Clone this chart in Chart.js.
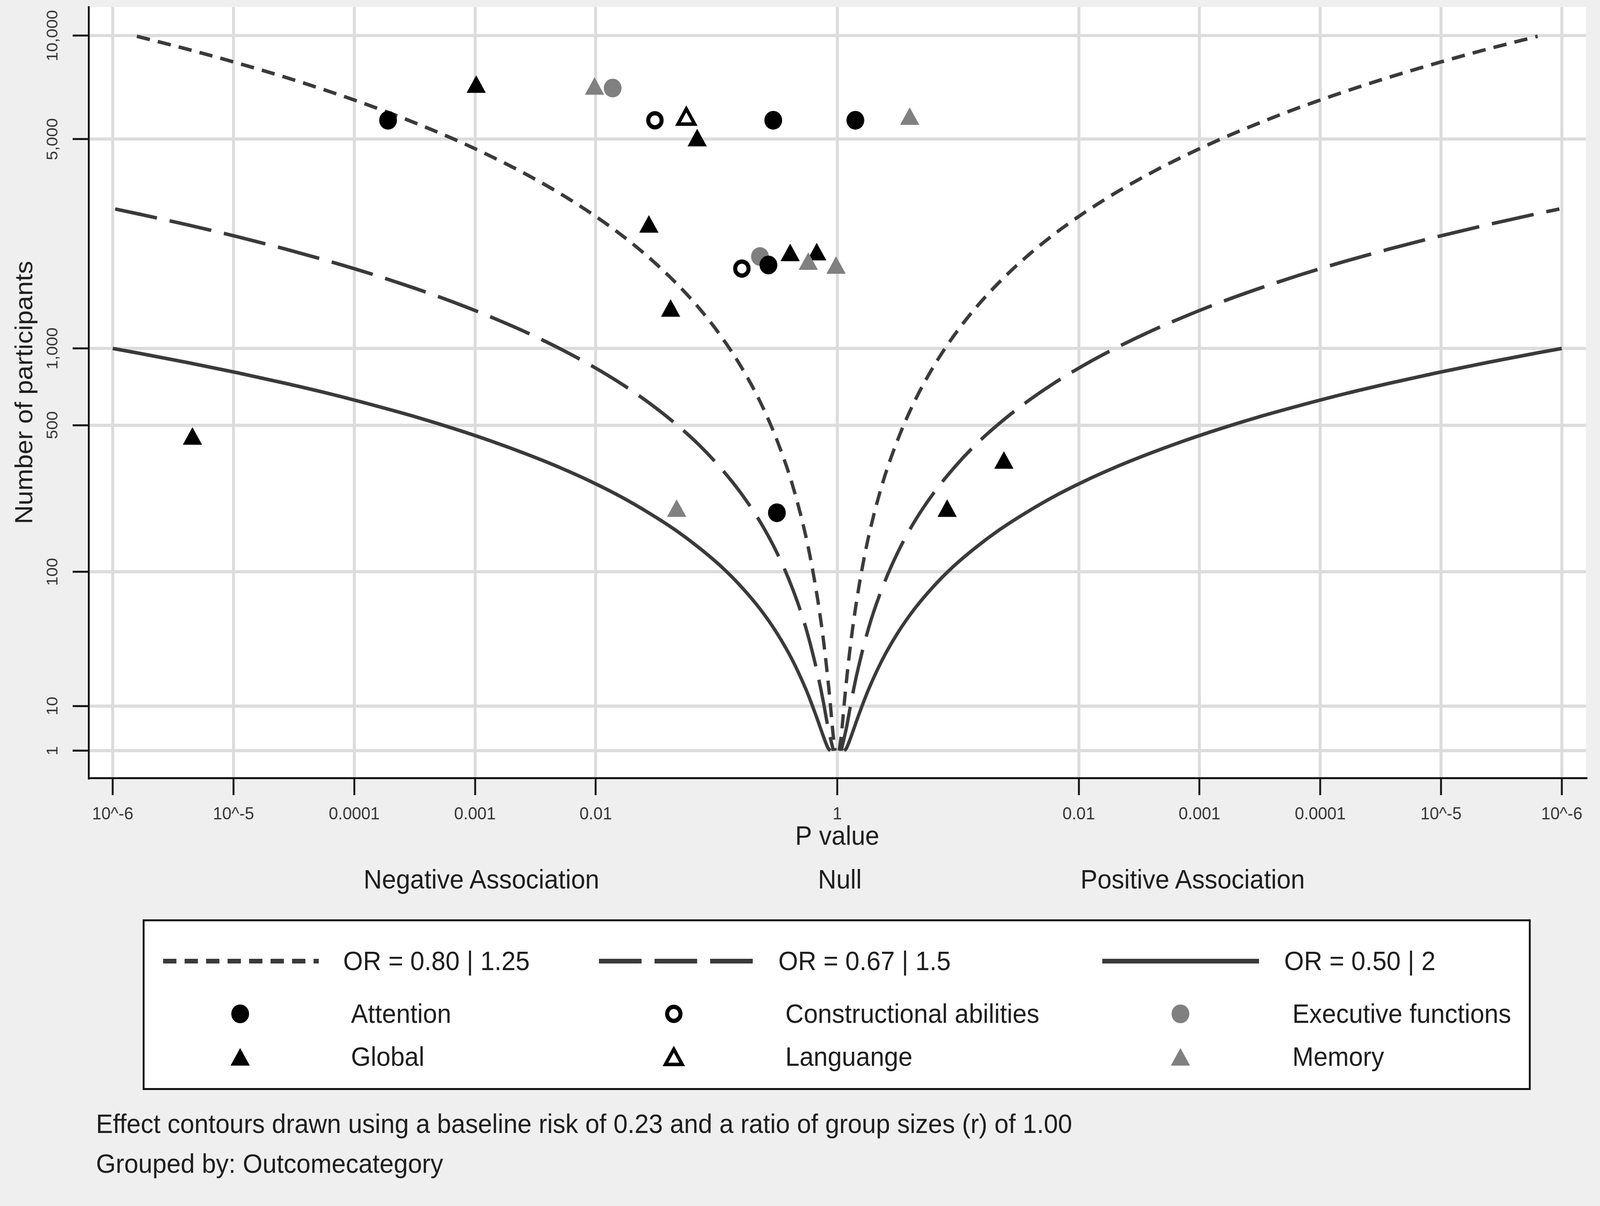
<!DOCTYPE html>
<html>
<head>
<meta charset="utf-8">
<script src="https://cdn.jsdelivr.net/npm/chart.js@4.4.1/dist/chart.umd.min.js"></script>
<style>
  html, body { margin: 0; padding: 0; background: #efefef; overflow: hidden; }
  #page {
    width: 4317px; height: 3088px; position: absolute; left: 0; top: 0;
    transform-origin: 0 0;
    font-family: "Liberation Sans", Arial, sans-serif; color: #1e1e1e;
  }
  #wrap { position: absolute; left: 0; top: 0; width: 4317px; height: 2200px; }
  .txt { position: absolute; font-size: 68.5px; line-height: 1; white-space: nowrap; }
  .mid { transform: translate(-50%, -50%); }
  .lft { transform: translate(0, -50%); }
  #legendBox {
    position: absolute; left: 385px; top: 2354px; width: 3745px; height: 437px;
    box-sizing: border-box; border: 5px solid #111; background: #fff;
  }
  svg.key { position: absolute; overflow: visible; }
</style>
</head>
<body>
<div id="page">
  <div id="wrap"><canvas id="albatross" width="4317" height="2200"></canvas></div>

  <div class="txt mid" style="left:1299px; top:2252px;">Negative Association</div>
  <div class="txt mid" style="left:2266px; top:2252px;">Null</div>
  <div class="txt mid" style="left:3218px; top:2252px;">Positive Association</div>

  <div id="legendBox"></div>
  <div id="legendItems"></div>

  <div class="txt lft" style="left:259px; top:2878px;">Effect contours drawn using a baseline risk of 0.23 and a ratio of group sizes (r) of 1.00</div>
  <div class="txt lft" style="left:259px; top:2980px;">Grouped by: Outcomecategory</div>
</div>

<script>
// x = signed -log10(p): negative side = negative association, positive side = positive association
// y = number of participants

const xTickValues = [-6, -5, -4, -3, -2, 0, 2, 3, 4, 5, 6]
const xTickLabels = ['10^-6', '10^-5', '0.0001', '0.001', '0.01', '1', '0.01', '0.001', '0.0001', '10^-5', '10^-6']
const yTickValues = [1, 10, 100, 500, 1000, 5000, 10000]
const yTickLabels = ['1', '10', '100', '500', '1,000', '5,000', '10,000']

// studies, grouped by outcome category
const attentionX = [-3.72, -0.53, 0.15, -0.57, -0.50]
const attentionN = [5700, 5700, 5700, 1980, 203]
const constructionalX = [-1.51, -0.79]
const constructionalN = [5700, 1925]
const executiveX = [-1.86, -0.64]
const executiveN = [7090, 2115]
const globalX = [-2.99, -1.16, -1.56, -1.38, -0.39, -0.17, -5.34, 1.38, 0.91]
const globalN = [7140, 4955, 2654, 1371, 2134, 2148, 438, 345, 207]
const languangeX = [-1.25]
const languangeN = [5750]
const memoryX = [-2.01, 0.60, -0.24, -0.01, -1.33]
const memoryN = [7050, 5750, 1995, 1935, 207]

// effect contours (distance from p = 1, in decades)
const or080U = [0.017, 0.036, 0.055, 0.075, 0.117, 0.162, 0.210, 0.261, 0.373, 0.499, 0.638, 0.792, 0.960, 1.143, 1.342, 1.556, 1.785, 2.031, 2.292, 2.569, 2.863, 3.171, 3.498, 3.839, 4.199, 4.574, 4.967, 5.374, 5.80]
const or080N = [1, 4.3, 9.7, 17.3, 38.9, 69, 108, 156, 277, 432, 622, 847, 1106, 1400, 1729, 2092, 2490, 2922, 3389, 3890, 4426, 4996, 5601, 6241, 6915, 7624, 8367, 9145, 9960]
const or067U = [0.032, 0.075, 0.117, 0.162, 0.261, 0.373, 0.499, 0.638, 0.792, 0.960, 1.143, 1.342, 1.556, 1.785, 2.031, 2.292, 2.569, 2.863, 3.171, 3.498, 3.839, 4.199, 4.574, 4.967, 5.374, 5.799, 5.98]
const or067N = [1, 5.1, 11.4, 20.3, 45.8, 81, 127, 183, 249, 325, 412, 508, 615, 732, 859, 996, 1144, 1301, 1469, 1647, 1835, 2034, 2242, 2461, 2689, 2928, 3030]
const or050U = [0.057, 0.075, 0.117, 0.162, 0.210, 0.261, 0.373, 0.499, 0.638, 0.792, 0.960, 1.143, 1.342, 1.556, 1.785, 2.031, 2.292, 2.569, 2.863, 3.171, 3.498, 3.839, 4.199, 4.574, 4.967, 5.374, 5.799, 6.00]
const or050N = [1, 1.7, 3.8, 6.7, 10.4, 15, 26.7, 41.8, 60.2, 81.9, 107, 135, 167, 202, 241, 283, 328, 376, 428, 483, 542, 603, 669, 737, 809, 884, 963, 1000]

const FONT = '"Liberation Sans", Arial, sans-serif'
const LINE_COLOR = '#3a3a3a'
const GRAY = '#808080'
const SHORT_DASH = [36, 22]
const LONG_DASH = [115, 35]

// the layout is drawn at 4317 x 3088 and stretched onto the real viewport
const sx = window.innerWidth / 4317
const sy = window.innerHeight / 3088
document.getElementById('page').style.transform = 'scale(' + sx + ',' + sy + ')'

// the participant axis is drawn on a squared-log scale
const toY = n => Math.pow(Math.log10(n), 2)

const pts = (xs, ns, side) => xs.map((x, i) => ({x: side * x, y: toY(ns[i])}))

function contour(label, us, ns, side, dash){
  const data = pts(us, ns, side)
  if (side < 0) data.reverse()
  return {
    label: label,
    data: data,
    showLine: true,
    borderColor: LINE_COLOR,
    borderWidth: 9,
    borderDash: dash,
    borderCapStyle: 'butt',
    cubicInterpolationMode: 'monotone',
    pointRadius: 0,
    order: 10
  }
}

function group(label, xs, ns, style, radius, fill, stroke, width, order){
  return {
    label: label,
    data: pts(xs, ns, 1),
    pointStyle: style,
    pointRadius: radius,
    pointHoverRadius: radius,
    pointBackgroundColor: fill,
    pointBorderColor: stroke,
    pointBorderWidth: width,
    order: order
  }
}

const plotBackground = {
  id: 'plotBackground',
  beforeDraw(chart){
    const {ctx, chartArea: a} = chart
    ctx.save()
    ctx.fillStyle = '#ffffff'
    ctx.fillRect(a.left, a.top, a.right - a.left, a.bottom - a.top)
    ctx.restore()
  }
}

// vertical tick labels on the participant axis
const verticalYLabels = {
  id: 'verticalYLabels',
  afterDraw(chart){
    const ctx = chart.ctx
    const sc = chart.scales.y
    ctx.save()
    ctx.font = '43px ' + FONT
    ctx.fillStyle = '#333'
    ctx.textAlign = 'center'
    ctx.textBaseline = 'middle'
    yTickValues.forEach((v, i) => {
      ctx.save()
      ctx.translate(sc.right - 96, sc.getPixelForValue(toY(v)))
      ctx.rotate(-Math.PI / 2)
      ctx.fillText(yTickLabels[i], 0, 0)
      ctx.restore()
    })
    ctx.restore()
  }
}

Chart.defaults.font.family = FONT

const chart = new Chart(document.getElementById('albatross'), {
  type: 'scatter',
  data: {
    datasets: [
      group('Attention', attentionX, attentionN, 'circle', 24, '#000', '#000', 0, 5),
      group('Constructional abilities', constructionalX, constructionalN, 'circle', 18, '#fff', '#000', 11, 2),
      group('Executive functions', executiveX, executiveN, 'circle', 24, GRAY, GRAY, 0, 6),
      group('Global', globalX, globalN, 'triangle', 30, '#000', '#000', 0, 4),
      group('Languange', languangeX, languangeN, 'triangle', 26, '#fff', '#000', 9, 1),
      group('Memory', memoryX, memoryN, 'triangle', 30, GRAY, GRAY, 0, 3),
      contour('OR = 0.80 | 1.25', or080U, or080N, -1, SHORT_DASH),
      contour('OR = 0.80 | 1.25', or080U, or080N, 1, SHORT_DASH),
      contour('OR = 0.67 | 1.5', or067U, or067N, -1, LONG_DASH),
      contour('OR = 0.67 | 1.5', or067U, or067N, 1, LONG_DASH),
      contour('OR = 0.50 | 2', or050U, or050N, -1, []),
      contour('OR = 0.50 | 2', or050U, or050N, 1, [])
    ]
  },
  options: {
    responsive: false,
    devicePixelRatio: (window.devicePixelRatio || 1) * Math.max(sx, sy),
    animation: false,
    layout: { autoPadding: false, padding: { left: 0, right: 38, top: 18, bottom: 0 } },
    plugins: { legend: { display: false }, tooltip: { enabled: false } },
    scales: {
      x: {
        type: 'linear',
        min: -6.2,
        max: 6.2,
        afterBuildTicks: s => { s.ticks = xTickValues.map(v => ({value: v})) },
        afterFit: s => { s.height = 208 },
        ticks: {
          callback: (v, i) => xTickLabels[i],
          autoSkip: false,
          maxRotation: 0,
          minRotation: 0,
          padding: 23,
          color: '#333',
          font: { size: 45 }
        },
        grid: { color: '#dcdcdc', lineWidth: 8, tickColor: '#111', tickWidth: 5, tickLength: 44 },
        border: { color: '#111', width: 5 },
        title: { display: true, text: 'P value', color: '#1e1e1e', font: { size: 68 }, padding: { top: 0, bottom: 15 } }
      },
      y: {
        type: 'linear',
        min: -0.61,
        max: 16.64,
        afterBuildTicks: s => { s.ticks = yTickValues.map(v => ({value: toY(v)})) },
        afterFit: s => { s.width = 239 },
        ticks: { display: false },
        grid: { color: '#dcdcdc', lineWidth: 8, tickColor: '#111', tickWidth: 5, tickLength: 43 },
        border: { color: '#111', width: 5 },
        title: { display: true, text: 'Number of participants', color: '#1e1e1e', font: { size: 67 }, padding: { top: 28, bottom: 0 } }
      }
    }
  },
  plugins: [plotBackground, verticalYLabels]
})

// keep the plot area where the reference has it
const pad = chart.options.layout.padding
if (Math.abs(chart.chartArea.top - 18) > 0.5) {
  pad.top = Math.max(0, pad.top + 18 - chart.chartArea.top)
  chart.update()
}

// legend: three columns inside a framed box
const legendLines = [
  { text: 'OR = 0.80 | 1.25', dash: SHORT_DASH, x1: 440, x2: 860, tx: 926 },
  { text: 'OR = 0.67 | 1.5', dash: LONG_DASH, x1: 1616, x2: 2032, tx: 2100 },
  { text: 'OR = 0.50 | 2', dash: [], x1: 2974, x2: 3397, tx: 3465 }
]
const legendMarkers = [
  { text: 'Attention', shape: 'circle', fill: '#000', stroke: 'none', sw: 0, r: 24, mx: 648, tx: 947, y: 2596 },
  { text: 'Constructional abilities', shape: 'circle', fill: '#fff', stroke: '#000', sw: 11, r: 18, mx: 1818, tx: 2119, y: 2596 },
  { text: 'Executive functions', shape: 'circle', fill: GRAY, stroke: 'none', sw: 0, r: 24, mx: 3185, tx: 3487, y: 2596 },
  { text: 'Global', shape: 'triangle', fill: '#000', stroke: 'none', sw: 0, r: 30, mx: 648, tx: 947, y: 2706 },
  { text: 'Languange', shape: 'triangle', fill: '#fff', stroke: '#000', sw: 9, r: 26, mx: 1818, tx: 2119, y: 2706 },
  { text: 'Memory', shape: 'triangle', fill: GRAY, stroke: 'none', sw: 0, r: 30, mx: 3185, tx: 3487, y: 2706 }
]
const NS = 'http://www.w3.org/2000/svg'
const holder = document.getElementById('legendItems')

function addText(str, x, y){
  const d = document.createElement('div')
  d.className = 'txt lft'
  d.style.left = x + 'px'
  d.style.top = y + 'px'
  d.textContent = str
  holder.appendChild(d)
}

legendLines.forEach(item => {
  const svg = document.createElementNS(NS, 'svg')
  svg.setAttribute('class', 'key')
  svg.setAttribute('width', item.x2 - item.x1)
  svg.setAttribute('height', 20)
  svg.style.left = item.x1 + 'px'
  svg.style.top = (2461 - 10) + 'px'
  const ln = document.createElementNS(NS, 'line')
  ln.setAttribute('x1', 0); ln.setAttribute('x2', item.x2 - item.x1)
  ln.setAttribute('y1', 10); ln.setAttribute('y2', 10)
  ln.setAttribute('stroke', LINE_COLOR)
  ln.setAttribute('stroke-width', 12)
  if (item.dash.length) ln.setAttribute('stroke-dasharray', item.dash.join(' '))
  svg.appendChild(ln)
  holder.appendChild(svg)
  addText(item.text, item.tx, 2461)
})

legendMarkers.forEach(item => {
  const svg = document.createElementNS(NS, 'svg')
  svg.setAttribute('class', 'key')
  svg.setAttribute('width', 100)
  svg.setAttribute('height', 100)
  svg.style.left = (item.mx - 50) + 'px'
  svg.style.top = (item.y - 50) + 'px'
  let el
  if (item.shape === 'circle') {
    el = document.createElementNS(NS, 'circle')
    el.setAttribute('cx', 50); el.setAttribute('cy', 50); el.setAttribute('r', item.r)
  } else {
    const r = item.r, cy = 50 + r / 4, h = Math.sin(Math.PI / 3) * r
    el = document.createElementNS(NS, 'polygon')
    el.setAttribute('points', [50 + ',' + (cy - r), (50 + h) + ',' + (cy + r / 2), (50 - h) + ',' + (cy + r / 2)].join(' '))
  }
  el.setAttribute('fill', item.fill)
  el.setAttribute('stroke', item.stroke)
  el.setAttribute('stroke-width', item.sw)
  svg.appendChild(el)
  holder.appendChild(svg)
  addText(item.text, item.tx, item.y)
})
</script>
</body>
</html>
